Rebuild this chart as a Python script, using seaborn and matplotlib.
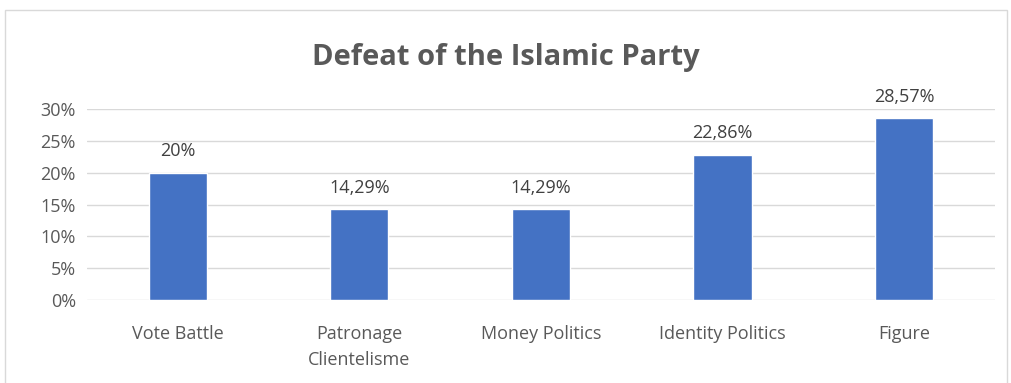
import matplotlib
matplotlib.use("Agg")
import matplotlib.pyplot as plt
import seaborn as sns
import pandas as pd
from matplotlib.patches import Rectangle

categories = ["Vote Battle", "Patronage\nClientelisme", "Money Politics", "Identity Politics", "Figure"]
values = [20.0, 14.29, 14.29, 22.86, 28.57]
value_labels = ["20%", "14,29%", "14,29%", "22,86%", "28,57%"]
y_ticks = [0, 5, 10, 15, 20, 25, 30]
y_tick_labels = ["0%", "5%", "10%", "15%", "20%", "25%", "30%"]

sns.set_theme(style="white")
plt.rcParams['font.family'] = ['Open Sans', 'DejaVu Sans']

df = pd.DataFrame({"cat": categories, "val": values})
fig = plt.figure(figsize=(10.12, 3.83), dpi=100)
ax = fig.add_axes([0.086, 0.217, 0.897, 0.498])
sns.barplot(data=df, x="cat", y="val", color="#4472C4", width=0.32, saturation=1, ax=ax)

txt = "#595959"
ax.set_ylim(0, 30)
ax.set_yticks(y_ticks)
ax.set_yticklabels(y_tick_labels, color=txt, fontsize=13)
ax.tick_params(axis='x', colors=txt, labelsize=13, length=0, pad=18)
ax.tick_params(axis='y', length=0, pad=8)
for lab in ax.get_xticklabels():
    lab.set_linespacing(1.55)
ax.set_xlabel("")
ax.set_ylabel("")
for yv in y_ticks:
    ax.axhline(yv, color="#D9D9D9", lw=1, zorder=0)
for s in ax.spines.values():
    s.set_visible(False)
for p, lab in zip(ax.patches, value_labels):
    ax.annotate(lab, (p.get_x() + p.get_width() / 2, p.get_height()),
                xytext=(0, 9), textcoords="offset points", ha="center", va="bottom",
                fontsize=13, color="#404040")
ax.set_xlim(-0.5, 4.5)
fig.text(0.5, 0.85, "Defeat of the Islamic Party", ha="center", va="center",
         fontsize=21, fontweight="bold", color=txt)
fig.patches.append(Rectangle((0.005, -0.01), 0.99, 0.985, transform=fig.transFigure,
                             fill=False, edgecolor="#D9D9D9", lw=1))
fig.savefig("out.png", dpi=100)
